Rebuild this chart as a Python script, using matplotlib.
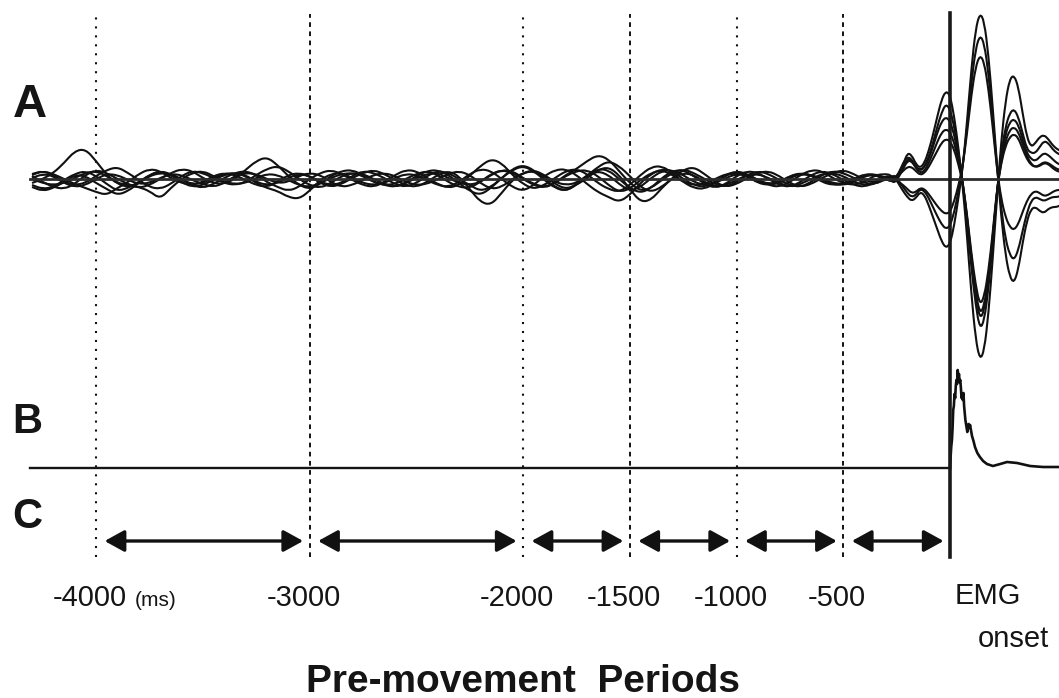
# Pre-movement traces (A), rectified EMG (B) and the analysis periods (C)
# redrawn with matplotlib on one bare axes.
import matplotlib.pyplot as plt
import numpy as np
from matplotlib.path import Path
from matplotlib.patches import PathPatch

plt.rcParams['font.family'] = ['Liberation Sans', 'DejaVu Sans']

# time grids (ms, 0 = EMG onset)
t_pre = np.arange(-4300, -299, 50)
t_post = np.arange(-280, 521, 20)

# A: individual traces, pre part (50 ms steps) and onset part (20 ms steps)
a1_pre = [5, 8, 4, -3, -6, -4, 3, 9, 12, 6,
          -1, -8, -10, -5, 3, 8, 6, 1, -4, -6,
          -3, 4, 10, 13, 8, 0, -6, -9, -4, 3,
          6, 5, 0, -5, -8, -4, 3, 8, 9, 4,
          -4, -12, -16, -9, 1, 10, 14, 9, 0, -8,
          -12, -6, 3, 12, 18, 13, 3, -8, -13, -8,
          1, 9, 12, 5, -3, -8, -5, 1, 6, 8,
          3, -4, -8, -5, 1, 6, 9, 5, -1, -4, 3]
a1_post = [2, -3, 4, 14, 26, 24, 15, 11, 16, 28, 44, 62, 79, 88, 84, 62, 30, -8, -58, -115,
           -160, -181, -172, -135, -80, -18, 38, 78, 100, 104, 92, 66, 42, 32, 36, 42, 44, 40, 34, 30, 28]

a2_pre = [-4, 0, 6, 16, 28, 30, 18, 4, -5, -8,
          -4, 3, 6, 5, 0, -6, -9, -5, 1, 6,
          8, 4, -3, -8, -12, -8, 0, 6, 9, 5,
          -1, -6, -8, -3, 4, 9, 8, 1, -5, -9,
          -6, 3, 13, 20, 16, 4, -5, -10, -6, 1,
          8, 10, 5, -4, -10, -13, -6, 4, 12, 13,
          6, -3, -9, -10, -4, 4, 8, 5, -1, -6,
          -8, -3, 4, 9, 8, 1, -4, -6, -3, 4, 5]
a2_post = [4, 0, 6, 16, 22, 20, 12, 8, 12, 22, 36, 52, 66, 75, 70, 52, 26, -4, -44, -88,
           -126, -150, -142, -110, -64, -12, 26, 52, 66, 70, 62, 46, 30, 26, 26, 32, 38, 36, 30, 26, 24]

a3_pre = [3, -3, -8, -10, -5, 4, 9, 6, 0, -5,
          -9, -6, 0, 6, 10, 8, 1, -4, -5, 0,
          9, 18, 22, 14, 3, -6, -10, -5, 3, 8,
          9, 4, -3, -6, -5, 0, 5, 8, 4, -3,
          -8, -9, -3, 5, 9, 6, 0, -6, -9, -4,
          4, 10, 18, 24, 20, 8, -4, -12, -9, -1,
          6, 10, 6, 0, -5, -8, -3, 4, 8, 5,
          -1, -6, -8, -3, 4, 8, 6, 1, -4, -5, 0]
a3_post = [-1, -4, 2, 10, 18, 18, 12, 9, 12, 20, 32, 46, 57, 62, 58, 44, 22, -4, -40, -82,
           -118, -140, -132, -102, -60, -12, 22, 45, 57, 60, 54, 40, 26, 20, 18, 22, 26, 24, 20, 16, 14]

a4_pre = [-6, -10, -8, -1, 5, 8, 3, -5, -12, -9,
          -3, 4, 8, 5, -1, -5, -4, 1, 5, 6,
          3, -4, -9, -12, -18, -20, -12, -1, 5, 6,
          1, -4, -6, -4, 1, 5, 4, -1, -6, -8,
          -3, 5, 10, 8, 0, -8, -12, -6, 3, 9,
          10, 4, -5, -13, -18, -23, -16, -4, 5, 10,
          8, 0, -6, -8, -3, 4, 6, 3, -4, -6,
          -4, 3, 6, 4, -3, -6, -5, 0, 5, 4, -1]
a4_post = [3, 1, 5, 12, 20, 18, 11, 6, 8, 16, 26, 37, 46, 50, 47, 36, 18, -4, -38, -78,
           -113, -135, -127, -98, -58, -12, 18, 38, 49, 52, 47, 35, 23, 15, 12, 13, 16, 15, 11, 8, 7]

a5_pre = [1, 5, 3, -4, -8, -6, 0, 5, 4, -1,
          -5, -4, 1, 5, 4, -1, -5, -8, -4, 3,
          6, 5, 0, -4, -3, 3, 6, 4, -3, -8,
          -6, -1, 4, 6, 3, -3, -6, -5, 0, 5,
          8, 4, -4, -10, -8, 0, 6, 9, 4, -3,
          -6, -4, 3, 8, 4, -5, -12, -8, 1, 8,
          9, 4, -3, -6, -4, 1, 5, 4, -1, -5,
          -4, 1, 5, 4, 0, -4, -5, -1, 4, 5, 1]
a5_post = [0, 2, 4, 8, 12, 12, 8, 4, 6, 12, 20, 28, 36, 40, 38, 29, 14, -4, -36, -74,
           -106, -126, -118, -92, -54, -10, 16, 33, 42, 45, 41, 30, 20, 14, 12, 14, 17, 16, 13, 10, 9]

a6_pre = [-8, -12, -9, -3, 4, 3, -4, -10, -16, -12,
          -4, 4, 8, 4, -3, -8, -6, -1, 4, 6,
          4, -3, -6, -4, 1, 5, 3, -4, -8, -5,
          1, 6, 9, 5, -1, -6, -8, -3, 4, 8,
          3, -10, -23, -26, -14, -1, 6, 8, 3, -5,
          -10, -6, 1, 9, 12, 4, -10, -23, -21, -9,
          1, 6, 4, -3, -8, -6, -1, 4, 5, 1,
          -4, -8, -5, 0, 5, 6, 3, -3, -6, -5, 1]
a6_post = [-3, 2, -5, -12, -18, -22, -19, -13, -16, -26, -38, -50, -62, -69, -65, -46, -18, 12, 58, 110,
           150, 166, 158, 124, 72, 14, -38, -76, -98, -104, -90, -64, -42, -30, -28, -32, -34, -30, -28, -28, -26]

a7_pre = [4, 8, 5, 0, -5, -9, -13, -16, -9, -3,
          5, 10, 8, 1, -4, -6, -3, 3, 6, 4,
          -1, -6, -8, -3, 4, 6, 3, -3, -6, -4,
          3, 8, 6, 1, -5, -8, -4, 3, 8, 6,
          0, -6, -12, -8, 1, 9, 13, 8, -1, -9,
          -12, -5, 4, 10, 9, 0, -9, -14, -9, 1,
          8, 9, 3, -5, -9, -5, 3, 8, 6, 0,
          -6, -8, -3, 4, 8, 5, -1, -6, -8, -3, 3]
a7_post = [1, 4, -2, -8, -14, -18, -16, -10, -12, -19, -28, -37, -45, -50, -47, -33, -12, 12, 52, 96,
           130, 144, 136, 106, 60, 12, -30, -60, -76, -81, -71, -52, -34, -22, -18, -20, -22, -20, -18, -18, -17]

a8_pre = [0, -4, -6, -4, 1, 6, 8, 3, -4, -6,
          -8, -12, -20, -9, 0, 6, 8, 3, -3, -5,
          -4, 1, 5, 4, -1, -6, -8, -4, 1, 5,
          6, 3, -3, -6, -8, -4, 1, 5, 6, 1,
          -4, -6, -3, 4, 9, 8, 1, -5, -8, -4,
          3, 8, 9, 3, -6, -13, -10, -1, 6, 9,
          4, -3, -6, -5, 0, 5, 6, 3, -3, -5,
          -3, 3, 5, 4, -1, -5, -6, -3, 3, 4, 0]
a8_post = [-1, 1, -3, -6, -10, -14, -13, -9, -10, -15, -21, -27, -32, -35, -33, -22, -6, 14, 46, 84,
           112, 124, 117, 90, 52, 10, -20, -38, -48, -51, -45, -33, -22, -15, -12, -14, -17, -16, -13, -11, -11]

# B: rectified EMG after onset
b_time = list(range(0, 91, 3)) + [94, 98, 103, 110, 117, 128, 140, 155, 173, 201,
                                  235, 267, 314, 375, 436, 510]
b_value = [0, 12, 22, 28, 40, 58, 62, 74, 70, 82,
           88, 84, 98, 90, 94, 86, 88, 80, 70, 72,
           68, 75, 62, 55, 48, 44, 40, 36, 42, 44,
           40, 43, 38, 32, 27, 21, 15, 11, 7, 4, 2,
           4, 6, 5, 2, 1, 1]

# C: period borders and labels
borders = [-4000, -3000, -2000, -1500, -1000, -500, 0]
border_style = ['dot', 'dash', 'dot', 'dash', 'dot', 'dash']
tick_labels = ['-4000', '-3000', '-2000', '-1500', '-1000', '-500']

# layout (data y is in pixel units, 0 at bottom)
A_BASE = 519
B_BASE = 230
ARROW_Y = 157
LINE_TOP = 684
LINE_BOT = 141
T_START = -4310


def smooth_path(x, y):
    #quadratic bezier path through the sample points, so the traces
    #are drawn as smooth curves instead of straight segments
    pts = np.column_stack([x, y])
    mids = (pts[:-1] + pts[1:]) / 2
    verts = [pts[0], mids[0]]
    codes = [Path.MOVETO, Path.LINETO]
    for i in range(1, len(pts) - 1):
        verts += [pts[i], mids[i]]
        codes += [Path.CURVE3, Path.CURVE3]
    verts.append(pts[-1])
    codes.append(Path.LINETO)
    return Path(verts, codes)


fig = plt.figure(figsize=(10.59, 6.98), dpi=100)
ax = fig.add_axes([0, 0, 1, 1])
ax.set_xlim(-4450, 510.5)
ax.set_ylim(0, 698)
ax.axis('off')

#Period borders: dotted and dashed verticals
for b, s in zip(borders[:-1], border_style):
    if s == 'dot':
        ax.plot([b, b], [LINE_BOT, LINE_TOP], color='#111111', lw=1.5,
                linestyle=(0, (1, 3.3)), dash_capstyle='butt')
    else:
        ax.plot([b, b], [LINE_BOT, LINE_TOP], color='#111111', lw=1.4,
                linestyle=(0, (2.4, 2.3)), dash_capstyle='butt')

#A traces
t_all = np.concatenate([t_pre, t_post])
traces = [(a1_pre, a1_post), (a2_pre, a2_post), (a3_pre, a3_post), (a4_pre, a4_post),
          (a5_pre, a5_post), (a6_pre, a6_post), (a7_pre, a7_post), (a8_pre, a8_post)]
for pre, post in traces:
    y = np.array(pre + post) + A_BASE
    ax.add_patch(PathPatch(smooth_path(t_all, y), facecolor='none',
                           edgecolor='#111111', lw=1.5, transform=ax.transData))
ax.plot([T_START, 510.5], [A_BASE, A_BASE], color='#2b2b2b', lw=2, zorder=3)

#B trace
ax.plot([T_START, 0], [B_BASE, B_BASE], color='#151515', lw=1.7)
ax.plot(b_time, np.array(b_value) + B_BASE, color='#111111', lw=1.9,
        solid_joinstyle='round')

#EMG onset line
ax.plot([0, 0], [LINE_BOT, LINE_TOP + 1], color='#1a1a1a', lw=2.6, zorder=4)

#C arrows between borders
for left, right in zip(borders[:-1], borders[1:]):
    ax.annotate('', xy=(right - 30, ARROW_Y), xytext=(left + 40, ARROW_Y),
                arrowprops=dict(arrowstyle='<|-|>,head_length=1.0,head_width=0.55',
                                mutation_scale=12, lw=2.4, color='#111111',
                                shrinkA=0, shrinkB=0))

#Panel letters
for letter, yb, size in [('A', 581, 34), ('B', 265, 30), ('C', 170, 30)]:
    ax.text(-4392, yb, letter, fontsize=size, fontweight='bold', color='#151515',
            ha='left', va='baseline')

#Tick labels
for b, lab in zip(borders[:-1], tick_labels):
    ax.text(b - 28, 92, lab, fontsize=21, color='#151515', ha='center', va='baseline')
ax.text(-3818, 92, '(ms)', fontsize=15, color='#151515', ha='left', va='baseline')
ax.text(23, 94, 'EMG', fontsize=21, color='#151515', ha='left', va='baseline')
ax.text(131, 51, 'onset', fontsize=21, color='#151515', ha='left', va='baseline')

ax.text(-2000, 6, 'Pre-movement  Periods', fontsize=28, fontweight='bold',
        color='#151515', ha='center', va='baseline')

fig.savefig('out.png', dpi=100)
